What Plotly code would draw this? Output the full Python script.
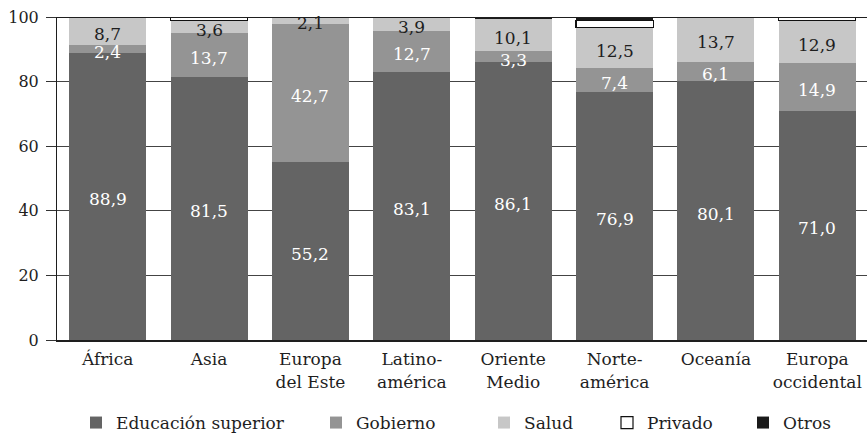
import plotly.graph_objects as go

# Reparto por sector (%) en cada región
regiones = ["África", "Asia", "Europa<br>del Este", "Latino-<br>américa", "Oriente<br>Medio",
            "Norte-<br>américa", "Oceanía", "Europa<br>occidental"]
educacion = [88.9, 81.5, 55.2, 83.1, 86.1, 76.9, 80.1, 71.0]
gobierno = [2.4, 13.7, 42.7, 12.7, 3.3, 7.4, 6.1, 14.9]
salud = [8.7, 3.6, 2.1, 3.9, 10.1, 12.5, 13.7, 12.9]
privado = [None, 1.2, None, None, None, 2.2, None, 1.2]
otros = [None, None, None, 0.3, 0.5, 1.0, None, None]
y_ticks = [0, 20, 40, 60, 80, 100]

FONT = "DejaVu Serif"
FS = 17
TXT = "#1e1e1e"

W, H = 867, 438
ML, MR, MT, MB = 57, 0, 17, 98
PW = W - ML - MR
PH = H - MT - MB

# nombre, valores, relleno, grosor de borde, color de borde, posición x del símbolo en la leyenda (px)
series = [
    ("Educación superior", educacion, "#646464", 0, "#646464", 90),
    ("Gobierno", gobierno, "#949494", 0, "#949494", 330),
    ("Salud", salud, "#c7c7c7", 0, "#c7c7c7", 498),
    ("Privado", privado, "#ffffff", 1.2, "#111111", 621),
    ("Otros", otros, "#1a1a1a", 0, "#1a1a1a", 757),
]

fig = go.Figure()
legends = {}
for k, (name, vals, color, lw, lc, lx) in enumerate(series):
    lid = "legend" if k == 0 else f"legend{k + 1}"
    fig.add_trace(go.Bar(
        name=name, x=regiones, y=vals, legend=lid,
        marker=dict(color=color, line=dict(width=lw, color=lc)),
        hoverinfo="skip",
    ))
    legends[lid] = dict(
        x=(lx - 14 - ML) / PW, xanchor="left",
        y=-(405 - (H - MB)) / PH, yanchor="top",
        orientation="h", bgcolor="rgba(0,0,0,0)", borderwidth=0,
        font=dict(family=FONT, size=FS, color=TXT),
    )


def fmt(v):
    return f"{v:.1f}".replace(".", ",")


# Etiquetas de valor centradas en cada segmento
annotations = []
for i, reg in enumerate(regiones):
    base = 0.0
    for vals, tcolor in ((educacion, "white"), (gobierno, "white"), (salud, TXT)):
        v = vals[i]
        annotations.append(dict(
            x=reg, y=base + v / 2, xref="x", yref="y", text=fmt(v),
            showarrow=False, yshift=-3,
            font=dict(family=FONT, size=FS, color=tcolor),
        ))
        base += v

fig.update_layout(
    width=W, height=H,
    margin=dict(l=ML, r=MR, t=MT, b=MB, autoexpand=False),
    paper_bgcolor="white", plot_bgcolor="white",
    barmode="stack", bargap=0.24,
    font=dict(family=FONT, size=FS, color=TXT),
    annotations=annotations,
    showlegend=True,
    **legends,
)
fig.update_xaxes(
    range=[-0.5, 7.49], showline=True, linecolor=TXT, linewidth=2,
    ticks="", showgrid=False, tickfont=dict(family=FONT, size=FS, color=TXT),
    ticklabelstandoff=3, automargin=False, fixedrange=True,
)
fig.update_yaxes(
    range=[0, 100], tickvals=y_ticks, ticks="outside", ticklen=10,
    tickcolor="#333333", showline=True, linecolor=TXT, linewidth=1,
    showgrid=True, gridcolor="#444444", gridwidth=1, zeroline=False,
    tickfont=dict(family=FONT, size=16, color=TXT), ticklabelstandoff=4,
    automargin=False, fixedrange=True,
)
# Línea superior del marco en 100
fig.add_shape(type="line", xref="paper", yref="y", x0=0, x1=1, y0=100, y1=100,
              line=dict(color=TXT, width=2), layer="above")

fig.write_html("out.html")
